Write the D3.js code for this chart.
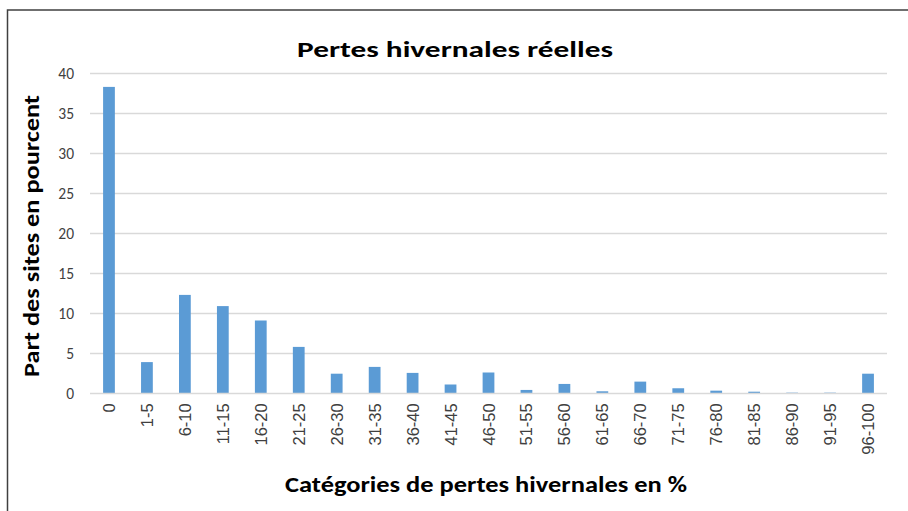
<!DOCTYPE html>
<html><head><meta charset="utf-8">
<script src="https://cdn.jsdelivr.net/npm/d3@7"></script>
<style>
html,body{margin:0;padding:0;background:#fff;}
svg{display:block;}
</style></head>
<body>
<svg id="chart" width="908" height="511"></svg>
<script>
const categories = ["0","1-5","6-10","11-15","16-20","21-25","26-30","31-35","36-40","41-45","46-50","51-55","56-60","61-65","66-70","71-75","76-80","81-85","86-90","91-95","96-100"];
const values = [38.3,3.9,12.3,10.9,9.1,5.8,2.45,3.3,2.55,1.1,2.6,0.42,1.17,0.25,1.46,0.63,0.33,0.2,0.08,0.08,2.45];
const yTicks = [0,5,10,15,20,25,30,35,40];
const titleText = "Pertes hivernales réelles";
const xTitleText = "Catégories de pertes hivernales en %";
const yTitleText = "Part des sites en pourcent";

(function(){
const svg = d3.select("#chart");
const W = 908, H = 511;
const plotL = 90, plotR = 887, plotT = 73.3, plotB = 393.3;
const calibri = "Carlito, Calibri, Lato, 'Open Sans', sans-serif";

svg.append("rect").attr("x",0).attr("y",0).attr("width",W).attr("height",H).attr("fill","#fff");
// outer chart border (only top & left visible)
svg.append("rect").attr("x",7.5).attr("y",10).attr("width",1000).attr("height",600)
  .attr("fill","none").attr("stroke","#404040").attr("stroke-width",1.5);

const x = d3.scaleBand().domain(categories).range([plotL,plotR]).paddingInner(0.69).paddingOuter(0.345);
const y = d3.scaleLinear().domain([0,40]).range([plotB,plotT]);

// gridlines
svg.append("g").selectAll("line").data(yTicks.filter(d=>d>0)).join("line")
  .attr("x1",plotL).attr("x2",plotR)
  .attr("y1",d=>Math.round(y(d))+0.5).attr("y2",d=>Math.round(y(d))+0.5)
  .attr("stroke","#d9d9d9").attr("stroke-width",1.3);

// bars
svg.append("g").selectAll("rect").data(values).join("rect")
  .attr("x",(d,i)=>x(categories[i]))
  .attr("width",x.bandwidth())
  .attr("y",d=>y(d))
  .attr("height",d=>y(0)-y(d))
  .attr("fill","#5b9bd5");

// x axis line
svg.append("line").attr("x1",plotL).attr("x2",plotR)
  .attr("y1",Math.round(y(0))+0.5).attr("y2",Math.round(y(0))+0.5)
  .attr("stroke","#d9d9d9").attr("stroke-width",1.3);

// y axis tick labels
const yAxis = d3.axisLeft(y).tickValues(yTicks).tickSize(0).tickPadding(0);
const gy = svg.append("g").attr("transform",`translate(${plotL-16},0)`).call(yAxis);
gy.select(".domain").remove();
gy.selectAll("text").attr("font-family",calibri).attr("font-size",15.5).attr("fill","#404040").attr("dy","0.35em");

// x axis tick labels
const xAxis = d3.axisBottom(x).tickSize(0).tickPadding(0);
const gx = svg.append("g").attr("transform",`translate(0,${plotB})`).call(xAxis);
gx.select(".domain").remove();
gx.selectAll("text")
  .attr("font-family","'Liberation Sans', Arial, sans-serif").attr("font-size",16.5).attr("fill","#404040")
  .attr("text-anchor","end").attr("dy",null)
  .attr("transform","translate(0,10) rotate(-90)")
  .attr("x",0).attr("y",0).attr("dominant-baseline","central");

// title
svg.append("text").attr("x",455).attr("y",57).attr("text-anchor","middle")
  .attr("font-family",calibri).attr("font-weight","bold").attr("font-size",21.5).attr("fill","#000")
  .attr("textLength",316).attr("lengthAdjust","spacingAndGlyphs").text(titleText);

// x title
svg.append("text").attr("x",486).attr("y",492).attr("text-anchor","middle")
  .attr("font-family",calibri).attr("font-weight","bold").attr("font-size",21.5).attr("fill","#000")
  .attr("textLength",402).attr("lengthAdjust","spacingAndGlyphs").text(xTitleText);

// y title
svg.append("text").attr("transform","translate(39,236) rotate(-90)").attr("text-anchor","middle")
  .attr("font-family",calibri).attr("font-weight","bold").attr("font-size",21.5).attr("fill","#000")
  .attr("textLength",282).attr("lengthAdjust","spacingAndGlyphs").text(yTitleText);
})();
</script>
</body></html>
